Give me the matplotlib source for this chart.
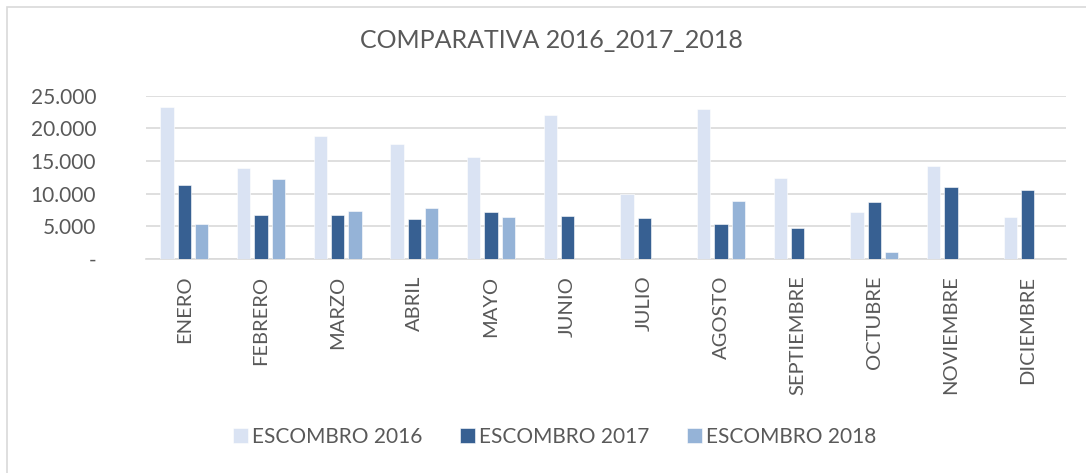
import matplotlib
matplotlib.use("Agg")
import matplotlib.pyplot as plt
import matplotlib.patches as mpatches
from matplotlib.ticker import FuncFormatter, MultipleLocator
import numpy as np

meses = ["ENERO", "FEBRERO", "MARZO", "ABRIL", "MAYO", "JUNIO", "JULIO",
         "AGOSTO", "SEPTIEMBRE", "OCTUBRE", "NOVIEMBRE", "DICIEMBRE"]
escombro_2016 = [23300, 14000, 18800, 17600, 15600, 22100, 10000, 23000, 12400, 7200, 14200, 6500]
escombro_2017 = [11400, 6700, 6700, 6100, 7200, 6600, 6300, 5300, 4700, 8800, 11000, 10500]
escombro_2018 = [5300, 12300, 7400, 7800, 6500, 0, 0, 8900, 0, 1000, 0, 0]
series_labels = ["ESCOMBRO 2016", "ESCOMBRO 2017", "ESCOMBRO 2018"]
colors = ["#DAE3F3", "#376092", "#95B3D7"]

plt.rcParams['font.family'] = ['Lato', 'DejaVu Sans']
W, H = 1086, 473
fig = plt.figure(figsize=(W / 100, H / 100), dpi=100)

# chart border
fig.patches.append(mpatches.Rectangle((6.5 / W, -0.05), 1.2, 1 - 7 / H + 0.05,
                                      transform=fig.transFigure, fill=False,
                                      edgecolor="#D9D9D9", linewidth=1.2))

left, right, top, bottom = 146, 1066, 95.7, 259
ax = fig.add_axes([left / W, 1 - bottom / H, (right - left) / W, (bottom - top) / H])
x = np.arange(len(meses))
off = 0.224
bw = 0.174
for i, (vals, lab, c) in enumerate(zip([escombro_2016, escombro_2017, escombro_2018], series_labels, colors)):
    ax.bar(x + (i - 1) * off, vals, width=bw, color=c, label=lab, zorder=3,
           edgecolor="white", linewidth=0.4)

ax.set_xlim(-0.5, len(meses) - 0.5)
ax.set_ylim(0, 25000)
ax.yaxis.set_major_locator(MultipleLocator(5000))


def fmt(v, pos):
    if v == 0:
        return "-"
    return f"{int(v):,}".replace(",", ".")


ax.yaxis.set_major_formatter(FuncFormatter(fmt))
ax.grid(axis="y", color="#D9D9D9", linewidth=1.2, zorder=0)
for s in ["left", "right", "top"]:
    ax.spines[s].set_visible(False)
ax.spines["bottom"].set_color("#D9D9D9")
ax.spines["bottom"].set_linewidth(1.2)
ax.set_xticks(x)
ax.set_xticklabels(meses, rotation=90, fontsize=14.5)
ax.tick_params(axis="both", length=0, colors="#595959")
ax.tick_params(axis="y", pad=36, labelsize=15)
ax.tick_params(axis="x", pad=12)

fig.text(551 / W, 1 - 40 / H, "COMPARATIVA 2016_2017_2018", ha="center", va="center",
         fontsize=18, color="#595959")

leg = fig.legend(loc="center", bbox_to_anchor=(555 / W, 1 - 437 / H), ncol=3, frameon=False,
                 fontsize=15, handlelength=0.72, handleheight=0.7, handletextpad=0.2,
                 columnspacing=1.8, borderpad=0, borderaxespad=0)
for t in leg.get_texts():
    t.set_color("#595959")

fig.savefig("out.png", dpi=100)
